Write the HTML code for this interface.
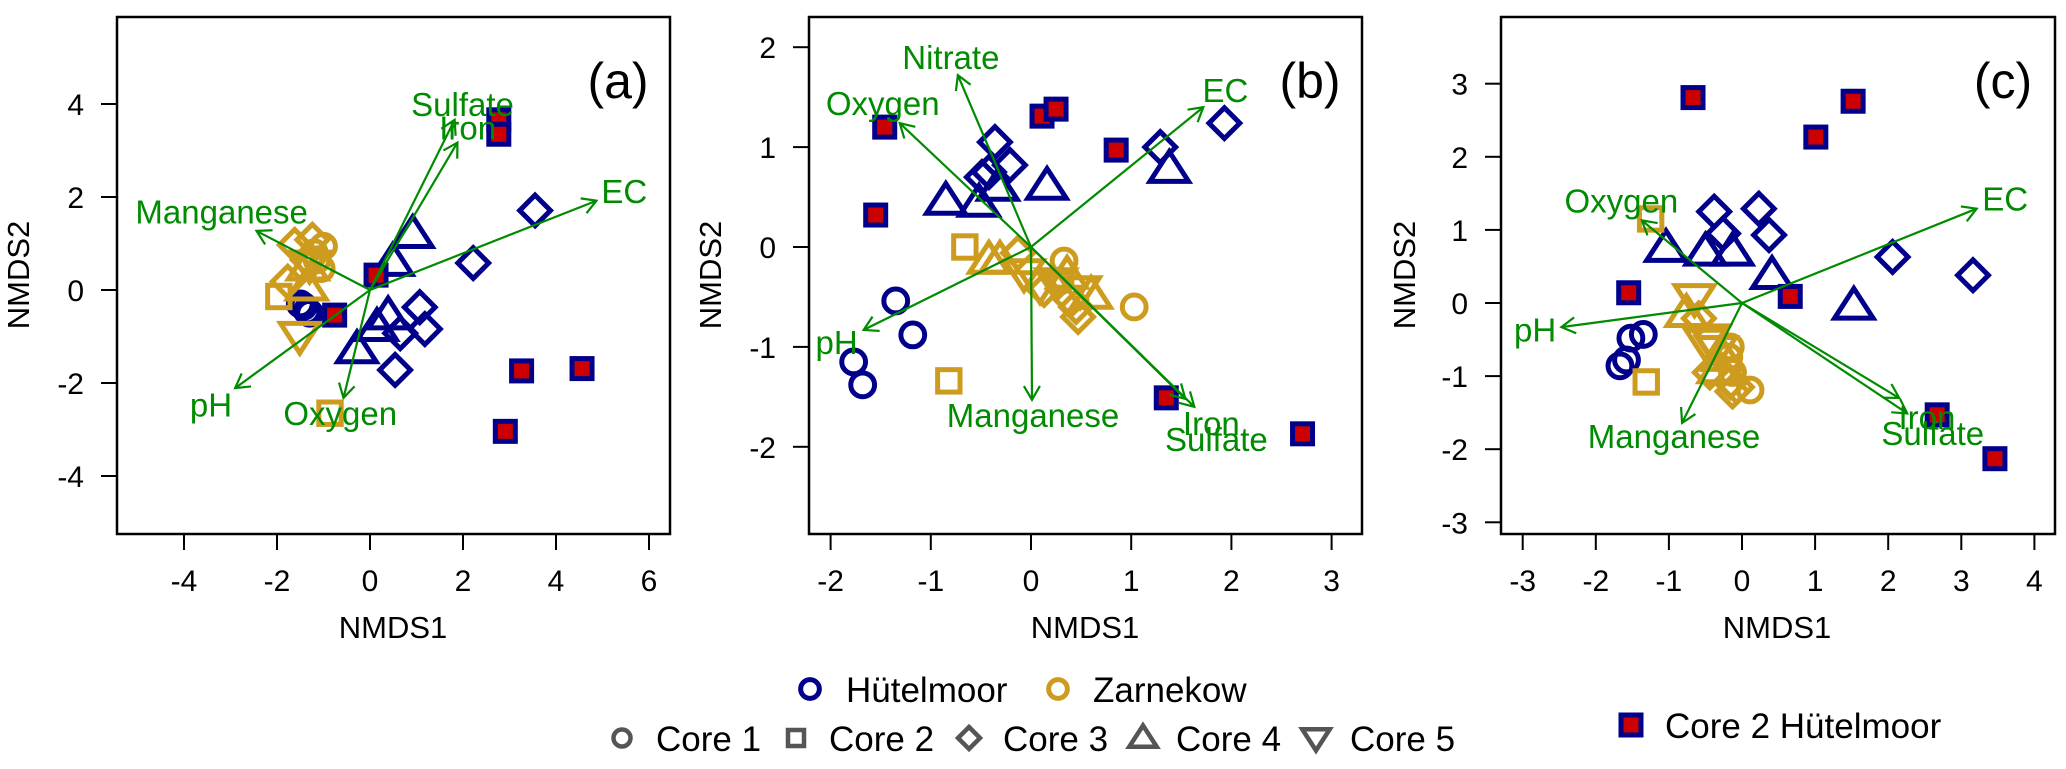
<!DOCTYPE html>
<html><head><meta charset="utf-8"><style>
html,body{margin:0;padding:0;background:#fff;}
svg{display:block;font-family:"Liberation Sans",Arial,sans-serif;}
</style></head><body>
<svg id="fig" width="2066" height="769" viewBox="0 0 2066 769" xmlns="http://www.w3.org/2000/svg"></svg>
<script>
// ---------- Panel (a) data ----------
const aHutCircles=[[-1.43,-0.35],[-1.35,-0.45],[-1.5,-0.3],[-1.3,-0.5]];
const aHutDiamonds=[[3.55,1.71],[2.22,0.58],[1.07,-0.37],[1.18,-0.84],[0.65,-0.93],[0.54,-1.72]];
const aHutTriangles=[[0.92,1.2],[0.49,0.6],[0.39,-0.55],[0.15,-0.8],[-0.28,-1.28]];
const aCore2Hut=[[2.77,3.66],[2.77,3.35],[0.13,0.32],[-0.76,-0.54],[3.26,-1.74],[4.56,-1.69],[2.91,-3.04]];
const aZarCircles=[[-1.0,0.94],[-1.14,0.65],[-1.05,0.46],[-1.2,0.8]];
const aZarSquares=[[-1.96,-0.14],[-0.86,-2.65]];
const aZarDiamonds=[[-1.62,0.97],[-1.77,0.18],[-1.34,0.65],[-1.24,1.08]];
const aZarTriUp=[[-1.36,0.07],[-1.34,0.5]];
const aZarTriDown=[[-1.51,-0.98],[-1.3,0.55]];
const aVecNames=["EC","Manganese","pH","Oxygen","Sulfate","Iron"];
const aVecEnds=[[4.87,1.92],[-2.44,1.27],[-2.9,-2.11],[-0.57,-2.32],[1.82,3.66],[1.88,3.17]];
const aVecLabels=[[5.47,2.13],[-3.19,1.69],[-3.42,-2.46],[-0.64,-2.65],[1.99,4.0],[2.1,3.5]];
const aXTicks=[-4,-2,0,2,4,6];
const aYTicks=[-4,-2,0,2,4];
// ---------- Panel (b) data ----------
const bHutCircles=[[-1.35,-0.54],[-1.18,-0.88],[-1.77,-1.15],[-1.68,-1.38]];
const bHutDiamonds=[[-0.36,1.05],[-0.21,0.82],[-0.49,0.70],[-0.42,0.75],[1.29,1.0],[1.93,1.24]];
const bHutTriangles=[[-0.85,0.46],[-0.52,0.44],[-0.33,0.6],[0.16,0.61],[1.38,0.78]];
const bCore2Hut=[[-1.46,1.2],[-1.55,0.32],[0.11,1.31],[0.25,1.38],[0.85,0.97],[1.35,-1.51],[2.71,-1.87]];
const bZarCircles=[[0.33,-0.14],[0.29,-0.34],[1.03,-0.6]];
const bZarSquares=[[-0.66,0],[-0.82,-1.34]];
const bZarDiamonds=[[-0.13,-0.06],[0.13,-0.43],[0.4,-0.53],[0.47,-0.7],[0.45,-0.6]];
const bZarTriUp=[[-0.42,-0.13],[-0.31,-0.13],[0.36,-0.28],[0.6,-0.48]];
const bZarTriDown=[[-0.07,-0.26],[0.09,-0.38],[0.25,-0.35],[0.49,-0.43]];
const bVecNames=["Nitrate","Oxygen","EC","pH","Manganese","Iron","Sulfate"];
const bVecEnds=[[-0.73,1.72],[-1.31,1.24],[1.72,1.4],[-1.67,-0.83],[0.01,-1.53],[1.63,-1.6],[1.54,-1.52]];
const bVecLabels=[[-0.8,1.9],[-1.48,1.44],[1.94,1.57],[-1.94,-0.95],[0.02,-1.68],[1.8,-1.76],[1.85,-1.92]];
const bXTicks=[-2,-1,0,1,2,3];
const bYTicks=[-2,-1,0,1,2];
// ---------- Panel (c) data ----------
const cHutCircles=[[-1.35,-0.43],[-1.52,-0.48],[-1.58,-0.78],[-1.67,-0.86]];
const cHutDiamonds=[[-0.38,1.25],[-0.26,0.95],[0.23,1.29],[0.37,0.93],[2.06,0.63],[3.16,0.38]];
const cHutTriangles=[[-1.04,0.75],[-0.5,0.7],[-0.13,0.7],[0.41,0.38],[1.53,-0.04]];
const cCore2Hut=[[-0.67,2.81],[1.52,2.76],[1.01,2.27],[-1.55,0.14],[0.66,0.09],[2.67,-1.53],[3.46,-2.13]];
const cZarCircles=[[-0.16,-0.6],[-0.18,-0.74],[0.11,-1.19],[-0.13,-0.95]];
const cZarSquares=[[-1.25,1.15],[-1.31,-1.08]];
const cZarDiamonds=[[-0.59,-0.21],[-0.44,-0.95],[-0.16,-1.08],[-0.07,-1.15],[-0.13,-1.21]];
const cZarTriUp=[[-0.76,-0.14],[-0.32,-0.91],[-0.26,-0.74]];
const cZarTriDown=[[-0.65,0.07],[-0.5,-0.54],[-0.35,-0.64],[-0.44,-0.48]];
const cVecNames=["EC","Oxygen","pH","Manganese","Iron","Sulfate"];
const cVecEnds=[[3.21,1.29],[-1.37,1.13],[-2.47,-0.33],[-0.82,-1.64],[2.15,-1.3],[2.26,-1.51]];
const cVecLabels=[[3.6,1.43],[-1.65,1.4],[-2.83,-0.36],[-0.93,-1.82],[2.53,-1.56],[2.61,-1.78]];
const cXTicks=[-3,-2,-1,0,1,2,3,4];
const cYTicks=[-3,-2,-1,0,1,2,3];

const NS="http://www.w3.org/2000/svg";
const svg=document.getElementById('fig');
const BLUE="#00008B",GOLD="#CD9B1D",GREEN="#008B00",RED="#CC0000";
const TOP=17,BOT=534;
function mk(tag,attrs,parent){const e=document.createElementNS(NS,tag);for(const k in attrs)e.setAttribute(k,attrs[k]);(parent||svg).appendChild(e);return e;}
function txt(s,attrs,parent){const e=mk('text',attrs,parent);e.textContent=s;return e;}

function marker(g,shape,cx,cy,color,sw,s){
  let e;
  if(shape==='circle'){e=mk('circle',{cx:cx,cy:cy,r:s*0.85,fill:'none',stroke:color,'stroke-width':sw},g);}
  else if(shape==='square'){e=mk('rect',{x:cx-s*0.8,y:cy-s*0.8,width:s*1.6,height:s*1.6,fill:'none',stroke:color,'stroke-width':sw},g);}
  else if(shape==='diamond'){const d=s*1.1;e=mk('polygon',{points:`${cx},${cy-d} ${cx+d},${cy} ${cx},${cy+d} ${cx-d},${cy}`,fill:'none',stroke:color,'stroke-width':sw},g);}
  else if(shape==='triup'){const w=s*1.25;e=mk('polygon',{points:`${cx},${cy-w} ${cx+w*1.1},${cy+w*0.7} ${cx-w*1.1},${cy+w*0.7}`,fill:'none',stroke:color,'stroke-width':sw},g);}
  else if(shape==='tridown'){const w=s*1.25;e=mk('polygon',{points:`${cx},${cy+w} ${cx+w*1.1},${cy-w*0.7} ${cx-w*1.1},${cy-w*0.7}`,fill:'none',stroke:color,'stroke-width':sw},g);}
  else if(shape==='core2'){e=mk('rect',{x:cx-10,y:cy-10,width:20,height:20,fill:RED,stroke:BLUE,'stroke-width':5},g);}
  return e;
}

function panel(P){
  const g=mk('g',{});
  
  
  const X=v=>P.x0+v*P.xu, Y=v=>P.y0-v*P.yu;
  const box=mk('rect',{x:P.l,y:TOP,width:P.r-P.l,height:BOT-TOP,fill:'none',stroke:'#000','stroke-width':2.5},g);
  
  
  const xa=mk('g',{},g);
  
  
  P.xt.forEach(t=>{
    mk('line',{x1:X(t),x2:X(t),y1:BOT,y2:BOT+16,stroke:'#000','stroke-width':2},xa);
    const tl=txt(String(t),{x:X(t),y:591,'text-anchor':'middle','font-size':30},xa);
    
    
  });
  const ya=mk('g',{},g);
  
  
  P.yt.forEach(t=>{
    mk('line',{x1:P.l-16,x2:P.l,y1:Y(t),y2:Y(t),stroke:'#000','stroke-width':2},ya);
    const tl=txt(String(t),{x:P.l-33,y:Y(t)+11,'text-anchor':'end','font-size':30},ya);
    
    
  });
  const xt=txt('NMDS1',{x:P.xtitle,y:638,'text-anchor':'middle','font-size':31},g);
  
  
  const yt=txt('NMDS2',{x:0,y:0,'text-anchor':'middle','font-size':31,transform:`translate(${P.ytitle+11},275) rotate(-90)`},g);
  
  
  const pl=txt('('+P.id+')',{x:P.labx,y:98,'text-anchor':'middle','font-size':50},g);
  
  
  const series=[['circle',P.hc,BLUE,'hutelmoor-core1'],['diamond',P.hd,BLUE,'hutelmoor-core3'],['triup',P.ht,BLUE,'hutelmoor-core4'],
    ['circle',P.zc,GOLD,'zarnekow-core1'],['square',P.zs,GOLD,'zarnekow-core2'],['diamond',P.zd,GOLD,'zarnekow-core3'],
    ['triup',P.zu,GOLD,'zarnekow-core4'],['tridown',P.zw,GOLD,'zarnekow-core5'],['core2',P.c2,BLUE,'core2-hutelmoor']];
  series.forEach(([shape,arr,col,nm])=>{
    arr.forEach(p=>{
      const m=marker(g,shape,X(p[0]),Y(p[1]),col,5,14);
      
      
    });
  });
  P.vn.forEach((name,i)=>{
    const x1=X(0),y1=Y(0),x2=X(P.ve[i][0]),y2=Y(P.ve[i][1]);
    const ag=mk('g',{stroke:GREEN,'stroke-width':2.2,fill:'none'},g);
    
    
    mk('line',{x1:x1,y1:y1,x2:x2,y2:y2},ag);
    const a=Math.atan2(y2-y1,x2-x1),L=16,h=Math.PI/6;
    mk('polyline',{points:`${x2-L*Math.cos(a-h)},${y2-L*Math.sin(a-h)} ${x2},${y2} ${x2-L*Math.cos(a+h)},${y2-L*Math.sin(a+h)}`},ag);
    const lb=txt(name,{x:X(P.vl[i][0]),y:Y(P.vl[i][1])+12,'text-anchor':'middle','font-size':33,fill:GREEN},g);
    
    
  });
}

panel({id:'a',l:117,r:670,x0:370,xu:46.5,y0:290,yu:46.5,xt:aXTicks,yt:aYTicks,xtitle:393,ytitle:18,labx:618,
  hc:aHutCircles,hd:aHutDiamonds,ht:aHutTriangles,c2:aCore2Hut,zc:aZarCircles,zs:aZarSquares,zd:aZarDiamonds,zu:aZarTriUp,zw:aZarTriDown,
  vn:aVecNames,ve:aVecEnds,vl:aVecLabels});
panel({id:'b',l:809,r:1362,x0:1031,xu:100.2,y0:247,yu:99.9,xt:bXTicks,yt:bYTicks,xtitle:1085,ytitle:710,labx:1310,
  hc:bHutCircles,hd:bHutDiamonds,ht:bHutTriangles,c2:bCore2Hut,zc:bZarCircles,zs:bZarSquares,zd:bZarDiamonds,zu:bZarTriUp,zw:bZarTriDown,
  vn:bVecNames,ve:bVecEnds,vl:bVecLabels});
panel({id:'c',l:1501,r:2055,x0:1742,xu:73.1,y0:303,yu:73.1,xt:cXTicks,yt:cYTicks,xtitle:1777,ytitle:1404,labx:2003,
  hc:cHutCircles,hd:cHutDiamonds,ht:cHutTriangles,c2:cCore2Hut,zc:cZarCircles,zs:cZarSquares,zd:cZarDiamonds,zu:cZarTriUp,zw:cZarTriDown,
  vn:cVecNames,ve:cVecEnds,vl:cVecLabels});

const lg=mk('g',{});


function legItem(shape,cx,cy,color,label,tx,name,sw,s){
  const g=mk('g',{},lg);
  
  
  marker(g,shape,cx,cy,color,sw,s);
  txt(label,{x:tx,y:cy+13,'font-size':35},g);
}
legItem('circle',810,689,BLUE,'Hütelmoor',846,'legend-entry-hutelmoor',5,11);
legItem('circle',1058,689,GOLD,'Zarnekow',1093,'legend-entry-zarnekow',5,11);
const GR="#555";
legItem('circle',622,738,GR,'Core 1',656,'legend-entry-core1',4.5,10);
legItem('square',796,738,GR,'Core 2',829,'legend-entry-core2',4.5,10);
legItem('diamond',969,738,GR,'Core 3',1003,'legend-entry-core3',4.5,10);
legItem('triup',1143,738,GR,'Core 4',1176,'legend-entry-core4',4.5,10);
legItem('tridown',1316,738,GR,'Core 5',1350,'legend-entry-core5',4.5,10);
legItem('core2',1631,725,BLUE,'Core 2 Hütelmoor',1665,'legend-entry-core2-hutelmoor',5,10);
</script>
</body></html>
